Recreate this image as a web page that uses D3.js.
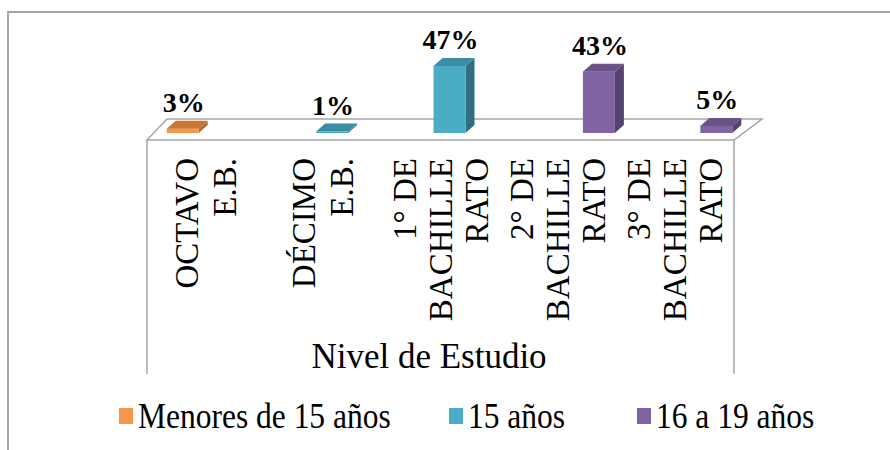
<!DOCTYPE html>
<html>
<head>
<meta charset="utf-8">
<script src="https://cdn.jsdelivr.net/npm/d3@7"></script>
<style>
body { margin: 0; background: #fff; }
svg { font-family: "Liberation Serif", "Times New Roman", serif; }
</style>
</head>
<body>
<svg width="890" height="450"></svg>
<script>
// Datos
var categorias = ["OCTAVO E.B.", "DÉCIMO E.B.", "1° DE BACHILLERATO", "2° DE BACHILLERATO", "3° DE BACHILLERATO"];
var etiquetas = [["OCTAVO", "E.B."], ["DÉCIMO", "E.B."], ["1° DE", "BACHILLE", "RATO"], ["2° DE", "BACHILLE", "RATO"], ["3° DE", "BACHILLE", "RATO"]];
var series = ["Menores de 15 años", "15 años", "16 a 19 años"];
var menores15 = [3, null, null, null, null];
var quince = [null, 1, 47, null, null];
var dieciseisA19 = [null, null, null, 43, 5];
var colores = ["#F79646", "#4BACC6", "#8064A2"];
var coloresTop = ["#C97634", "#3B8DA3", "#6A5287"];
var coloresLado = ["#B5692C", "#2F6F80", "#56426F"];

var valores = [menores15, quince, dieciseisA19];

// geometria
var floorLeft = 147, floorRight = 734, floorFront = 140;
var backLeft = [167, 119], backRight = [762, 119];
var wallBottom = 374;
var barBase = 133;
var dep = {x: 9, y: -8};

var svg = d3.select('svg');

// borde exterior
svg.append('path')
  .attr('d', 'M8,450 L8,12 L890,12')
  .attr('fill', 'none')
  .attr('stroke', '#A6A6A6')
  .attr('stroke-width', 2);

//Escalas
var xScale = d3.scaleBand().domain(categorias).range([floorLeft, floorRight]);
var sScale = d3.scaleBand().domain(series).range([-39, 57]);
var yScale = d3.scaleLinear().domain([0, 100]).range([barBase, barBase - 142.5]);

// piso y paredes
var gris = '#A6A6A6';
svg.append('polygon')
  .attr('points', [[floorLeft, floorFront], backLeft, backRight, [floorRight, floorFront]].join(' '))
  .attr('fill', '#fff')
  .attr('stroke', gris)
  .attr('stroke-width', 1.5);

svg.append('line')
  .attr('x1', floorLeft).attr('x2', floorLeft)
  .attr('y1', floorFront).attr('y2', wallBottom)
  .attr('stroke', gris).attr('stroke-width', 1.5);
svg.append('line')
  .attr('x1', floorRight).attr('x2', floorRight)
  .attr('y1', floorFront).attr('y2', wallBottom)
  .attr('stroke', gris).attr('stroke-width', 1.5);

// barras
var barras = [];
valores.forEach(function(serie, si) {
  serie.forEach(function(v, ci) {
    if (v != null) barras.push({serie: si, cat: categorias[ci], valor: v});
  });
});

var bw = sScale.bandwidth();
var g = svg.selectAll('.barra')
  .data(barras)
  .enter()
  .append('g')
  .attr('class', 'barra');

g.each(function(d) {
  var el = d3.select(this);
  var x0 = xScale(d.cat) + xScale.bandwidth() / 2 + sScale(series[d.serie]);
  var x1 = x0 + bw;
  var y0 = barBase;
  var y1 = yScale(d.valor);
  // lado
  el.append('polygon')
    .attr('points', [[x1, y0], [x1 + dep.x, y0 + dep.y], [x1 + dep.x, y1 + dep.y], [x1, y1]].join(' '))
    .attr('fill', coloresLado[d.serie]);
  // frente
  el.append('rect')
    .attr('x', x0).attr('y', y1)
    .attr('width', bw).attr('height', Math.max(y0 - y1, 0.5))
    .attr('fill', colores[d.serie]);
  // tapa
  el.append('polygon')
    .attr('points', [[x0, y1], [x0 + dep.x, y1 + dep.y], [x1 + dep.x, y1 + dep.y], [x1, y1]].join(' '))
    .attr('fill', coloresTop[d.serie]);
  // etiqueta
  el.append('text')
    .attr('x', x0 + bw / 2 + 1)
    .attr('y', y1 + dep.y - 9)
    .attr('text-anchor', 'middle')
    .attr('font-weight', 'bold')
    .attr('font-size', 28)
    .text(d.valor + '%');
});

// etiquetas del eje
etiquetas.forEach(function(lineas, ci) {
  var cx = xScale(categorias[ci]) + xScale.bandwidth() / 2;
  var lineH = lineas.length == 2 ? 38 : 36;
  lineas.forEach(function(t, li) {
    var off = (li - (lineas.length - 1) / 2) * lineH;
    svg.append('text')
      .attr('transform', 'translate(' + (cx + off + 11) + ',158) rotate(-90)')
      .attr('text-anchor', 'end')
      .attr('font-size', 33)
      .text(t);
  });
});

svg.append('text')
  .attr('x', 429)
  .attr('y', 368)
  .attr('text-anchor', 'middle')
  .attr('font-size', 35)
  .text('Nivel de Estudio');

// leyenda
var legX = [119, 449, 637];
var leg = svg.selectAll('.leg')
  .data(series)
  .enter()
  .append('g')
  .attr('class', 'leg')
  .attr('transform', function(d, i) { return 'translate(' + legX[i] + ',0)'; });
leg.append('rect')
  .attr('x', 0).attr('y', 408)
  .attr('width', 14).attr('height', 16)
  .attr('fill', function(d, i) { return colores[i]; });
leg.append('text')
  .attr('transform', 'translate(19,428) scale(0.9,1)')
  .attr('font-size', 35)
  .text(function(d) { return d; });
</script>
</body>
</html>
